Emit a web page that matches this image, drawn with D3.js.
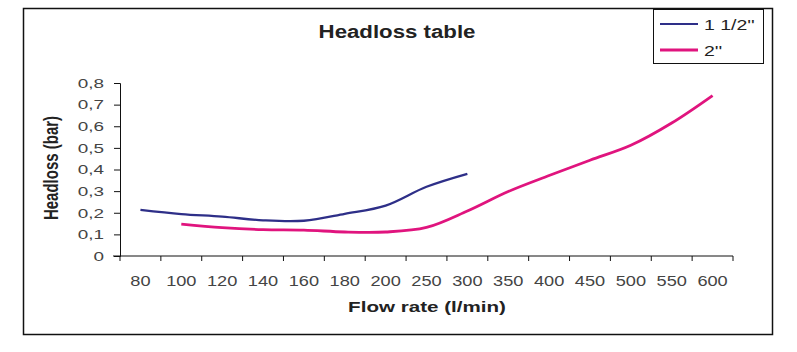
<!DOCTYPE html>
<html>
<head>
<meta charset="utf-8">
<script src="https://cdn.jsdelivr.net/npm/d3@7"></script>
<style>
  body { margin: 0; background: #fff; }
  svg { display: block; font-family: "Liberation Sans", Arial, sans-serif; }
</style>
</head>
<body>
<div id="main"></div>
<script>
// flow rate categories (l/min)
var categories = ["80", "100", "120", "140", "160", "180", "200", "250", "300", "350", "400", "450", "500", "550", "600"];
// headloss (bar) per category, null = no reading
var pipe15 = [0.213, 0.194, 0.182, 0.165, 0.163, 0.195, 0.233, 0.32, 0.38, null, null, null, null, null, null];
var pipe2 = [null, 0.147, 0.131, 0.122, 0.12, 0.111, 0.111, 0.132, 0.208, 0.298, 0.372, 0.443, 0.512, 0.615, 0.742];
var yTicks = [0, 0.1, 0.2, 0.3, 0.4, 0.5, 0.6, 0.7, 0.8];
var seriesNames = ["1  1/2''", "2''"];

var width = 797, height = 352;
var plot = {left: 120, right: 733, top: 83, bottom: 256};
var colors = ["#2e2f88", "#e0147e"];
var stretch = 1.35; // the source picture is wider than tall, glyphs too

var translate = function(x, y) {
  return "translate(" + x + "," + y + ")";
};

var svg = d3.select("#main").append("svg")
    .attr("width", width)
    .attr("height", height);

// outer frame
svg.append("rect")
    .attr("x", 23.5).attr("y", 8.5)
    .attr("width", 749).attr("height", 326)
    .attr("fill", "none")
    .attr("stroke", "#111")
    .attr("stroke-width", 1.5);

var x = d3.scaleBand()
    .domain(categories)
    .range([plot.left, plot.right])
    .padding(0);

var y = d3.scaleLinear()
    .domain([0, 0.8])
    .range([plot.bottom, plot.top]);

var fmt = function(d) { return d3.format(".1~f")(d).replace(".", ","); };

// y axis
var yAxis = svg.append("g")
    .attr("transform", translate(plot.left, 0))
    .call(d3.axisLeft(y).tickValues(yTicks).tickSize(6).tickFormat(fmt));
yAxis.select(".domain").attr("stroke", "#111");
yAxis.selectAll(".tick line").attr("stroke", "#111");
yAxis.selectAll(".tick text")
    .attr("x", 0)
    .attr("fill", "#444")
    .style("font-size", "13.5px")
    .attr("transform", "translate(-16,0) scale(1.4,1)");

// x axis: labels centred in bands, ticks on band edges
var xAxis = svg.append("g")
    .attr("transform", translate(0, plot.bottom))
    .call(d3.axisBottom(x).tickSize(0).tickPadding(0));
xAxis.select(".domain").remove();
xAxis.selectAll(".tick text")
    .attr("y", 0)
    .attr("dy", 0)
    .attr("fill", "#444")
    .style("font-size", "14px")
    .attr("transform", "translate(0,30) scale(1.3,1)");

xAxis.append("line")
    .attr("x1", plot.left - 7).attr("x2", plot.right)
    .attr("stroke", "#111");

xAxis.selectAll(".edge")
    .data(categories.map(function(c) { return x(c); }).concat([plot.right]))
    .enter().append("line")
      .attr("class", "edge")
      .attr("x1", function(d) { return d; })
      .attr("x2", function(d) { return d; })
      .attr("y1", 0).attr("y2", 5)
      .attr("stroke", "#111");

// lines
var line = d3.line()
    .defined(function(d) { return d.v != null; })
    .x(function(d) { return x(d.c) + x.bandwidth() / 2; })
    .y(function(d) { return y(d.v); })
    .curve(d3.curveCatmullRom.alpha(0.5));

[pipe15, pipe2].forEach(function(values, i) {
  var pts = categories.map(function(c, j) { return {c: c, v: values[j]}; });
  svg.append("path")
      .datum(pts)
      .attr("fill", "none")
      .attr("stroke", colors[i])
      .attr("stroke-width", i === 0 ? 2.3 : 2.8)
      .attr("stroke-linejoin", "round")
      .attr("d", line);
});

// title and axis titles
svg.append("text")
    .attr("transform", translate(397, 38) + " scale(1.27,1)")
    .attr("text-anchor", "middle")
    .attr("font-weight", "bold")
    .attr("fill", "#222")
    .style("font-size", "17.5px")
    .text("Headloss table");

svg.append("text")
    .attr("transform", translate(427, 312) + " scale(1.42,1)")
    .attr("text-anchor", "middle")
    .attr("font-weight", "bold")
    .attr("fill", "#222")
    .style("font-size", "14.5px")
    .text("Flow rate (l/min)");

svg.append("text")
    .attr("transform", translate(58, 168) + " scale(" + stretch + ",1) rotate(-90)")
    .attr("text-anchor", "middle")
    .attr("font-weight", "bold")
    .attr("fill", "#222")
    .style("font-size", "15px")
    .text("Headloss (bar)");

// legend
var legend = svg.append("g");
legend.append("rect")
    .attr("x", 653.5).attr("y", 9.5)
    .attr("width", 110).attr("height", 54)
    .attr("fill", "#fff")
    .attr("stroke", "#111");

var items = legend.selectAll(".item")
    .data(seriesNames)
    .enter().append("g")
      .attr("class", "item")
      .attr("transform", function(d, i) { return translate(660, 24 + i * 26); });

items.append("line")
    .attr("x1", 0).attr("x2", 38)
    .attr("stroke", function(d, i) { return colors[i]; })
    .attr("stroke-width", function(d, i) { return i === 0 ? 2 : 3; });

items.append("text")
    .attr("transform", translate(44, 5.5) + " scale(1.3,1)")
    .attr("fill", "#222")
    .style("font-size", "15px")
    .text(function(d) { return d; });
</script>
</body>
</html>
